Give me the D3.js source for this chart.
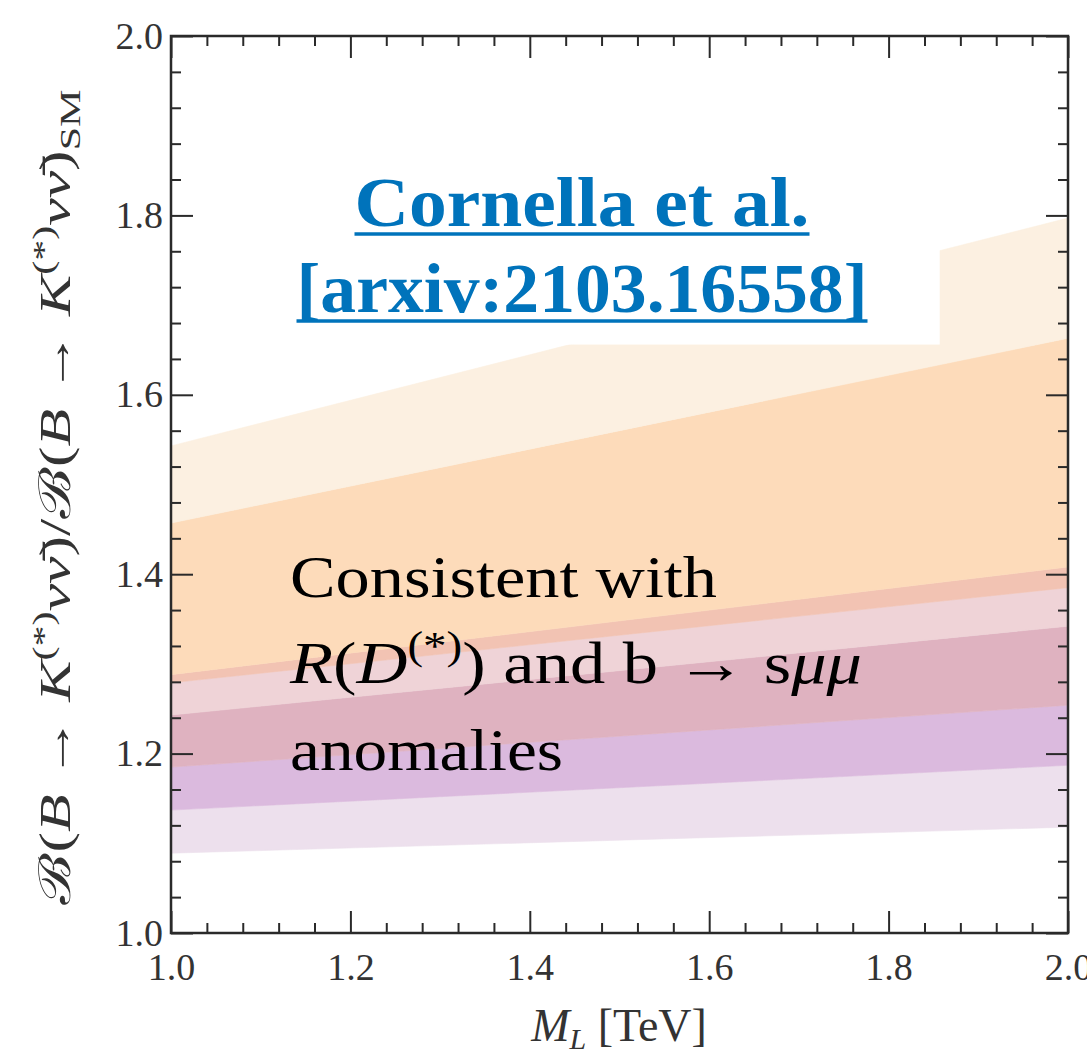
<!DOCTYPE html>
<html>
<head>
<meta charset="utf-8">
<script src="https://cdn.jsdelivr.net/npm/d3@7"></script>
<style>
  html, body { margin: 0; padding: 0; background: #fff; }
  svg { display: block; }
</style>
</head>
<body>
<div id="chart"></div>
<script>
// M_L grid where the band edges were read (TeV)
const massTeV = [1.0, 2.0];

// band edges, bottom -> top, value at 1.0 and 2.0 TeV
const edge0 = [1.089, 1.118];
const edge1 = [1.137, 1.187];
const edge2 = [1.185, 1.254];
const edge3 = [1.243, 1.342];
const edge4 = [1.279, 1.385];
const edge5 = [1.288, 1.408];
const edge6 = [1.457, 1.663];
const edge7 = [1.543, 1.797];

const bandColors = ["#ede0ed", "#dbbade", "#dfb2c0", "#efd3d7", "#f2c3b3", "#fddbba", "#fcf0e1"];

// white label box sitting over the top band
const boxRight = 1.857;
const boxBottom = 1.656;

const majorTicks = [1.0, 1.2, 1.4, 1.6, 1.8, 2.0];
const minorTicks = [1.04, 1.08, 1.12, 1.16, 1.24, 1.28, 1.32, 1.36, 1.44, 1.48, 1.52, 1.56,
                    1.64, 1.68, 1.72, 1.76, 1.84, 1.88, 1.92, 1.96];

(function () {
  const margin = { top: 36, left: 171 };
  const innerWidth = 897;
  const innerHeight = 897;
  const serif = "'Liberation Serif', 'DejaVu Serif', serif";

  const svg = d3.select("#chart").append("svg")
    .attr("width", 1087)
    .attr("height", 1060);

  const plot = svg.append("g")
    .attr("transform", `translate(${margin.left},${margin.top})`);

  const x = d3.scaleLinear().domain([1, 2]).range([0, innerWidth]);
  const y = d3.scaleLinear().domain([1, 2]).range([innerHeight, 0]);

  // bands
  const edges = [edge0, edge1, edge2, edge3, edge4, edge5, edge6, edge7];
  const bands = d3.range(edges.length - 1).map(i => ({
    color: bandColors[i],
    pts: massTeV.map((m, j) => ({ m, lo: edges[i][j], hi: edges[i + 1][j] }))
  }));

  const area = d3.area()
    .x(d => x(d.m))
    .y0(d => y(d.lo))
    .y1(d => y(d.hi));

  plot.selectAll(".band")
    .data(bands)
    .join("path")
    .attr("class", "band")
    .attr("d", d => area(d.pts))
    .attr("fill", d => d.color)
    .attr("stroke", d => d.color)
    .attr("stroke-width", 0.6);

  // white box behind the reference label
  plot.append("rect")
    .attr("x", x(1))
    .attr("y", y(2))
    .attr("width", x(boxRight) - x(1))
    .attr("height", y(boxBottom) - y(2))
    .attr("fill", "#fff");

  // axes: inward ticks on all four sides
  const fmt = d3.format(".1f");
  const styleAxis = g => {
    g.select(".domain").remove();
    g.selectAll(".tick line").attr("stroke", "#2a2a2a").attr("stroke-width", 2);
    g.selectAll(".tick text")
      .attr("fill", "#333")
      .style("font-family", serif)
      .style("font-size", "38px");
  };

  plot.append("g")
    .call(d3.axisLeft(y).tickValues(majorTicks).tickFormat(fmt).tickSize(-22).tickPadding(8))
    .call(styleAxis);
  plot.append("g")
    .call(d3.axisLeft(y).tickValues(minorTicks).tickFormat("").tickSize(-10))
    .call(styleAxis);

  plot.append("g")
    .attr("transform", `translate(0,${innerHeight})`)
    .call(d3.axisBottom(x).tickValues(majorTicks).tickFormat(fmt).tickSize(-22).tickPadding(20))
    .call(styleAxis);
  plot.append("g")
    .attr("transform", `translate(0,${innerHeight})`)
    .call(d3.axisBottom(x).tickValues(minorTicks).tickFormat("").tickSize(-10))
    .call(styleAxis);

  plot.append("g")
    .call(d3.axisTop(x).tickValues(majorTicks).tickFormat("").tickSize(-22))
    .call(styleAxis);
  plot.append("g")
    .call(d3.axisTop(x).tickValues(minorTicks).tickFormat("").tickSize(-10))
    .call(styleAxis);

  plot.append("g")
    .attr("transform", `translate(${innerWidth},0)`)
    .call(d3.axisRight(y).tickValues(majorTicks).tickFormat("").tickSize(-22))
    .call(styleAxis);
  plot.append("g")
    .attr("transform", `translate(${innerWidth},0)`)
    .call(d3.axisRight(y).tickValues(minorTicks).tickFormat("").tickSize(-10))
    .call(styleAxis);

  plot.append("rect")
    .attr("width", innerWidth)
    .attr("height", innerHeight)
    .attr("fill", "none")
    .attr("stroke", "#2a2a2a")
    .attr("stroke-width", 2.5);

  // helper: rich text from pieces [text, italic?, shift]
  function rich(textSel, parts) {
    let cur = 0;
    parts.forEach(p => {
      const shift = p.shift || 0;
      const t = textSel.append("tspan")
        .attr("dy", `${shift - cur}px`)
        .text(p.t);
      if (p.it) t.style("font-style", "italic");
      if (p.size) t.style("font-size", p.size);
      cur = shift;
    });
  }

  // x label
  const xl = svg.append("text")
    .attr("x", 619)
    .attr("y", 1041)
    .attr("text-anchor", "middle")
    .attr("fill", "#333")
    .style("font-family", serif)
    .style("font-size", "46px");
  rich(xl, [
    { t: "M", it: true },
    { t: "L", it: true, shift: 8, size: "30px" },
    { t: " [TeV]", shift: 0 }
  ]);

  // y label
  const yl = svg.append("text")
    .attr("transform", "translate(70,497) rotate(-90)")
    .attr("text-anchor", "middle")
    .attr("fill", "#333")
    .attr("textLength", 815)
    .attr("lengthAdjust", "spacingAndGlyphs")
    .style("font-family", serif)
    .style("font-size", "44px");
  rich(yl, [
    { t: "ℬ(" },
    { t: "B", it: true },
    { t: " → " },
    { t: "K", it: true },
    { t: "(*)", shift: -17, size: "30px" },
    { t: "νν̄", it: true, shift: 0 },
    { t: ")/ℬ(" },
    { t: "B", it: true },
    { t: " → " },
    { t: "K", it: true },
    { t: "(*)", shift: -17, size: "30px" },
    { t: "νν̄", it: true, shift: 0 },
    { t: ")" },
    { t: "SM", shift: 10, size: "30px" }
  ]);

  // reference label (blue, underlined)
  const blue = "#0073bb";
  const refLines = [
    { t: "Cornella et al.", cx: 582, base: 226, w: 455, ul: 234 },
    { t: "[arxiv:2103.16558]", cx: 582, base: 312, w: 571, ul: 321 }
  ];
  refLines.forEach(r => {
    svg.append("text")
      .attr("x", r.cx)
      .attr("y", r.base)
      .attr("text-anchor", "middle")
      .attr("textLength", r.w)
      .attr("lengthAdjust", "spacingAndGlyphs")
      .attr("fill", blue)
      .style("font-family", serif)
      .style("font-weight", "700")
      .style("font-size", "70px")
      .text(r.t);
    svg.append("line")
      .attr("x1", r.cx - r.w / 2)
      .attr("x2", r.cx + r.w / 2)
      .attr("y1", r.ul)
      .attr("y2", r.ul)
      .attr("stroke", blue)
      .attr("stroke-width", 3.5);
  });

  // annotation (black)
  const note = svg.append("g")
    .attr("fill", "#000")
    .style("font-family", serif)
    .style("font-size", "60px");

  note.append("text")
    .attr("x", 290).attr("y", 597)
    .attr("textLength", 427).attr("lengthAdjust", "spacingAndGlyphs")
    .text("Consistent with");

  const l2 = note.append("text")
    .attr("x", 290).attr("y", 683)
    .attr("textLength", 572).attr("lengthAdjust", "spacingAndGlyphs");
  rich(l2, [
    { t: "R", it: true },
    { t: "(" },
    { t: "D", it: true },
    { t: "(*)", shift: -24, size: "40px" },
    { t: ") and b → s", shift: 0 },
    { t: "μμ", it: true }
  ]);

  note.append("text")
    .attr("x", 290).attr("y", 770)
    .attr("textLength", 273).attr("lengthAdjust", "spacingAndGlyphs")
    .text("anomalies");

  console.log("done");
})();
</script>
</body>
</html>
